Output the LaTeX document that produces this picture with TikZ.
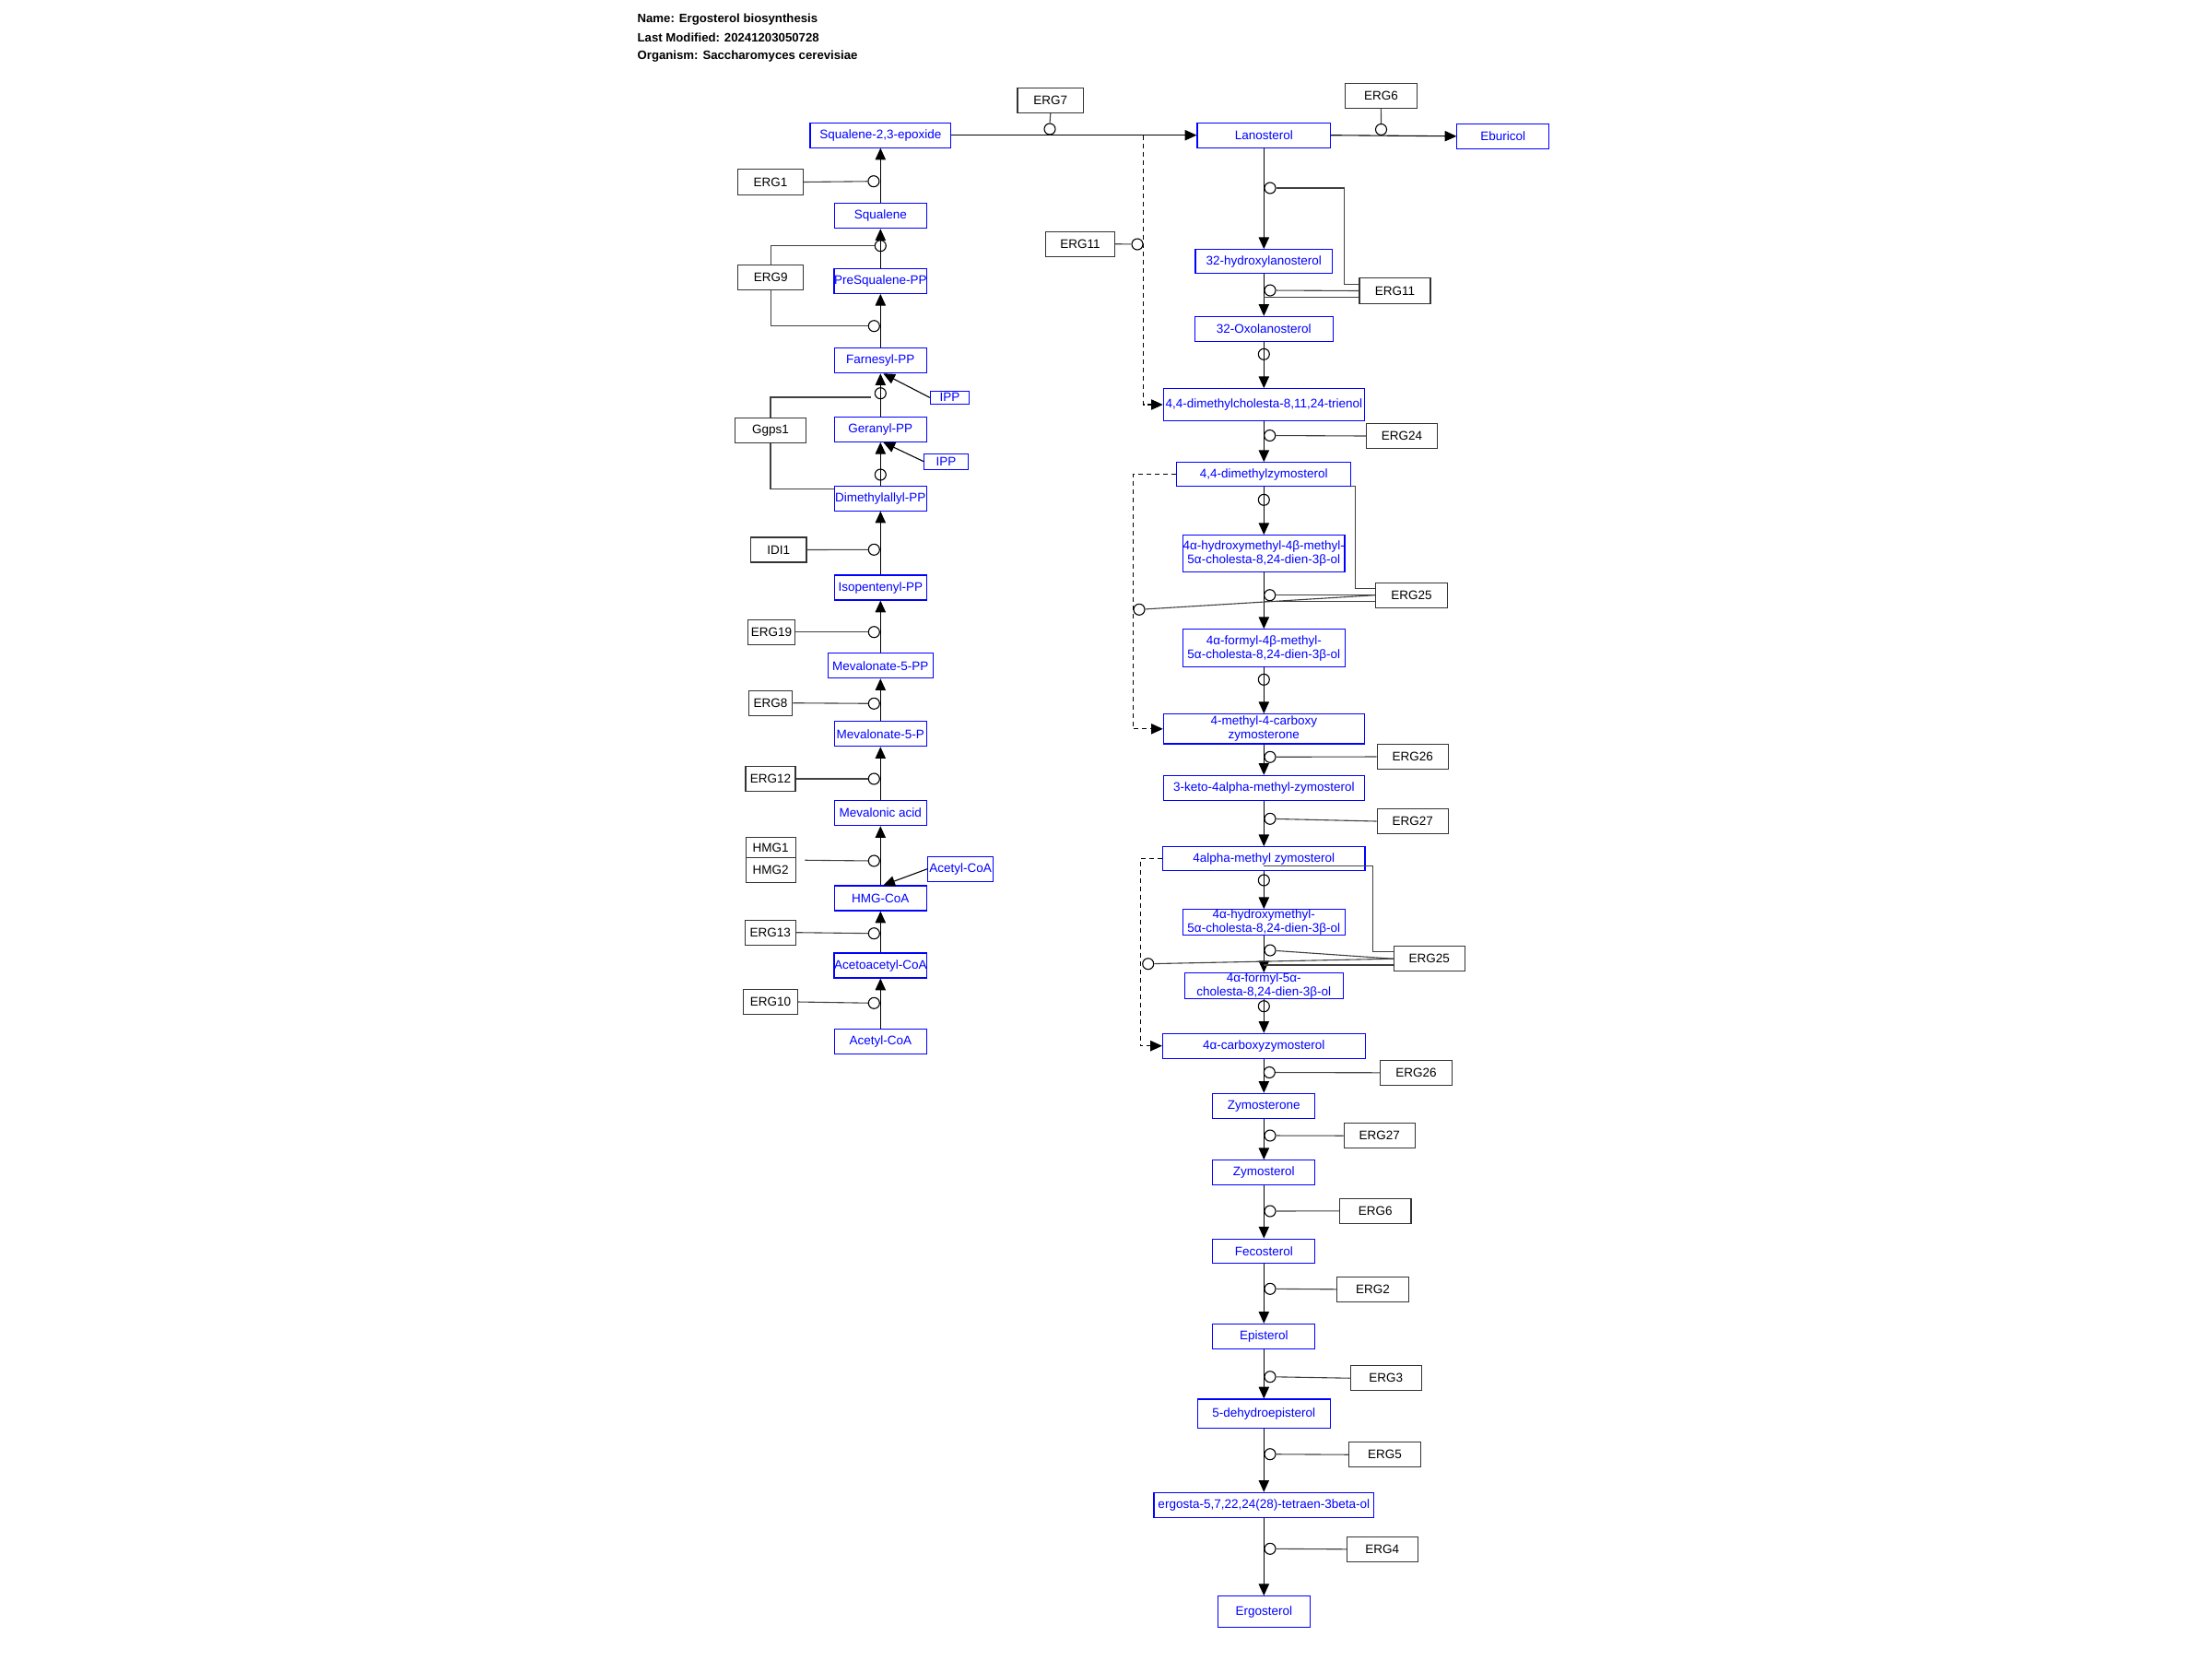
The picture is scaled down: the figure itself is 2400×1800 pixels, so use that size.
\documentclass[tikz,border=0pt]{standalone}
\usepackage{fontspec}
\setmainfont{Liberation Sans}
\usetikzlibrary{arrows.meta}
\newcommand\metab[6]{\node[met, minimum width=#4pt, minimum height=#5pt] (#1) at (#2,#3) {#6};}
\newcommand\enzy[6]{\node[enz, minimum width=#4pt, minimum height=#5pt] (#1) at (#2,#3) {#6};}
\newcommand\catal[3]{\node[cat] (#1) at (#2,#3) {};}
\begin{document}
\begin{tikzpicture}[x=1pt,y=-1pt,
  met/.style={draw=blue, text=blue, line width=1.1pt, rectangle, inner sep=0pt, align=center, font=\fontsize{13.5}{15}\selectfont},
  enz/.style={draw=black!80, text=black, line width=1.1pt, rectangle, inner sep=0pt, font=\fontsize{13.5}{15}\selectfont},
  cat/.style={circle, draw=black, line width=1.1pt, minimum size=12pt, inner sep=0pt},
  rx/.style={line width=1.1pt, -{Triangle[length=12.7pt,width=11.3pt]}},
  link/.style={line width=1.1pt, draw=black!75},
  dashx/.style={dash pattern=on 5pt off 4pt},
  hdr/.style={anchor=west, inner sep=0pt, font=\bfseries\fontsize{13.2}{15}\selectfont}]
\useasboundingbox (0,0) rectangle (2400,1800);
\fill[white] (0,0) rectangle (2400,1800);
% header
\node[hdr] (t1) at (691.4,20.7) {Name: Ergosterol biosynthesis};
\node[hdr] (t2) at (691.4,40.7) {Last Modified: 20241203050728};
\node[hdr] (t3) at (691.4,60.7) {Organism: Saccharomyces cerevisiae};
% left column metabolites
\metab{sqe}{955.3}{146.7}{152.7}{26.7}{Squalene-2,3-epoxide}
\metab{squ}{955.3}{234}{100}{27.4}{Squalene}
\metab{psq}{955.3}{305}{99.7}{26.6}{PreSqualene-PP}
\metab{fpp}{955.3}{391}{99.7}{27.4}{Farnesyl-PP}
\metab{ipa}{1030.5}{431.3}{42.4}{14}{IPP}
\metab{gpp}{955.3}{465.8}{99.7}{27}{Geranyl-PP}
\metab{ipb}{1026.5}{500.7}{47.6}{17.3}{IPP}
\metab{dma}{955.3}{540.7}{99.7}{26.7}{Dimethylallyl-PP}
\metab{ipe}{955.3}{637.5}{99.7}{27}{Isopentenyl-PP}
\metab{mvpp}{955.3}{722.2}{114.3}{27}{Mevalonate-5-PP}
\metab{mvp}{955.3}{796.2}{99.7}{27}{Mevalonate-5-P}
\metab{mva}{955.3}{882}{99.7}{27.4}{Mevalonic acid}
\metab{acx}{1042}{942.7}{70.6}{26.7}{Acetyl-CoA}
\metab{hmg}{955.3}{974.5}{99.7}{27}{HMG-CoA}
\metab{aac}{955.3}{1047.5}{99.7}{27}{Acetoacetyl-CoA}
\metab{acc}{955.3}{1129.8}{99.7}{27}{Acetyl-CoA}
% right column metabolites
\metab{lan}{1371.3}{146.7}{144.7}{26.7}{Lanosterol}
\metab{ebu}{1630.8}{147.8}{99.8}{27}{Eburicol}
\metab{hyl}{1371.3}{283.7}{148.7}{26}{32-hydroxylanosterol}
\metab{oxo}{1371.3}{356.8}{150.3}{27}{32-Oxolanosterol}
\metab{tri}{1371.3}{439}{218}{34.6}{4,4-dimethylcholesta-8,11,24-trienol}
\metab{dmz}{1371.3}{514.7}{189}{26}{4,4-dimethylzymosterol}
\metab{hma}{1371.3}{600.7}{169.7}{40}{4α-hydroxymethyl-4β-methyl-\\5α-cholesta-8,24-dien-3β-ol}
\metab{fma}{1371.3}{703}{176}{40.6}{4α-formyl-4β-methyl-\\5α-cholesta-8,24-dien-3β-ol}
\metab{mcz}{1371.3}{790.8}{218}{32.3}{4-methyl-4-carboxy\\zymosterone}
\metab{kmz}{1371.3}{854.7}{218}{26.7}{3-keto-4alpha-methyl-zymosterol}
\metab{amz}{1371.3}{931.7}{219.3}{26}{4alpha-methyl zymosterol}
\metab{hmb}{1371.3}{1000.5}{176.4}{27}{4α-hydroxymethyl-\\5α-cholesta-8,24-dien-3β-ol}
\metab{fmb}{1371.3}{1069.5}{172.4}{27}{4α-formyl-5α-\\cholesta-8,24-dien-3β-ol}
\metab{cz}{1371.3}{1134.7}{219.7}{26.7}{4α-carboxyzymosterol}
\metab{zyn}{1371.3}{1199.8}{111}{27}{Zymosterone}
\metab{zyl}{1371.3}{1272}{111}{26.6}{Zymosterol}
\metab{fec}{1371.3}{1357.2}{111}{26.3}{Fecosterol}
\metab{epi}{1371.3}{1449.7}{111}{26.7}{Episterol}
\metab{dhe}{1371.3}{1533.8}{144.4}{31.7}{5-dehydroepisterol}
\metab{tet}{1371.3}{1632.8}{238.7}{27}{ergosta-5,7,22,24(28)-tetraen-3beta-ol}
\metab{egs}{1371.3}{1748.7}{99.6}{34}{Ergosterol}
% enzymes
\enzy{e7}{1139.8}{108.7}{71.6}{27.3}{ERG7}
\enzy{e6a}{1498.4}{103.7}{77.7}{27.3}{ERG6}
\enzy{e1}{836.1}{197.5}{71}{27.6}{ERG1}
\enzy{e9}{836.2}{301}{71}{26.6}{ERG9}
\enzy{gg}{836}{467.2}{77.4}{27}{Ggps1}
\enzy{idi}{844.8}{596.5}{60.3}{27}{IDI1}
\enzy{e19}{837}{685.7}{50.6}{26.7}{ERG19}
\enzy{e8}{836}{762.7}{47.4}{26.7}{ERG8}
\enzy{e12}{836}{845}{54}{26.6}{ERG12}
\enzy{ha}{836.2}{919.5}{53.7}{22.4}{HMG1}
\enzy{hb}{836.2}{944}{53.7}{26.6}{HMG2}
\enzy{e13}{835.8}{1011.7}{55}{26.7}{ERG13}
\enzy{e10}{836}{1087}{58.6}{26.6}{ERG10}
\enzy{ea}{1172}{264.7}{74.3}{27.3}{ERG11}
\enzy{eb}{1513.5}{315.5}{77}{27.6}{ERG11}
\enzy{e24}{1521}{473}{77.4}{26.6}{ERG24}
\enzy{f25}{1531.5}{645.7}{77.6}{26.7}{ERG25}
\enzy{f26}{1532.7}{821}{77.3}{26.6}{ERG26}
\enzy{f27}{1532.7}{891}{77.3}{26.6}{ERG27}
\enzy{g25}{1550.8}{1040.2}{77}{27}{ERG25}
\enzy{g26}{1536.5}{1163.8}{77.6}{27}{ERG26}
\enzy{g27}{1496.7}{1232.2}{77.3}{27}{ERG27}
\enzy{e6b}{1492.3}{1313.8}{77.3}{27}{ERG6}
\enzy{e2}{1489.5}{1398.8}{77.6}{27}{ERG2}
\enzy{e3}{1503.7}{1495.2}{77.3}{27}{ERG3}
\enzy{e5}{1502.5}{1578.2}{77.6}{27}{ERG5}
\enzy{e4}{1499.8}{1680.8}{77}{27}{ERG4}
% catalysis circles
\catal{c1}{947.9}{196.7}
\catal{c9a}{955.3}{266.7}
\catal{c9b}{948.3}{353.7}
\catal{cgg}{955.3}{426.7}
\catal{cdm}{955.3}{515}
\catal{cidi}{948.3}{596.3}
\catal{c19}{948.3}{685.7}
\catal{c8}{948.3}{763.3}
\catal{c12}{948.3}{845}
\catal{chm}{948.3}{934}
\catal{c13}{948.3}{1012.7}
\catal{c10}{948.3}{1088.3}
\catal{c7}{1139}{140}
\catal{c6a}{1498.5}{140.5}
\catal{cea}{1234}{265}
\catal{cl}{1378}{204}
\catal{ch}{1378}{315}
\catal{co}{1371.3}{384.3}
\catal{c24}{1377.7}{472.5}
\catal{cd}{1371.3}{542.3}
\catal{cf25}{1377.7}{645.7}
\catal{cf25d}{1236}{661.3}
\catal{cfm}{1371.3}{737.3}
\catal{cf26}{1378}{821.3}
\catal{cf27}{1378}{888.3}
\catal{cam}{1371.3}{955}
\catal{cg25}{1378}{1031}
\catal{cg25d}{1245.7}{1045.7}
\catal{cfb}{1371.3}{1091.7}
\catal{cg26}{1377.3}{1163.5}
\catal{cg27}{1378}{1232}
\catal{c6b}{1378}{1314}
\catal{c2}{1378}{1398.3}
\catal{c3}{1378}{1493.7}
\catal{c5}{1378}{1577.7}
\catal{c4}{1378}{1680.3}
% main reactions, left
\draw[rx] (acc.north) -- (aac.south);
\draw[rx] (aac.north) -- (hmg.south);
\draw[rx] (hmg.north) -- (mva.south);
\draw[rx] (mva.north) -- (mvp.south);
\draw[rx] (mvp.north) -- (mvpp.south);
\draw[rx] (mvpp.north) -- (ipe.south);
\draw[rx] (ipe.north) -- (dma.south);
\draw[rx] (dma.north) -- (gpp.south);
\draw[rx] (gpp.north) -- (fpp.south);
\draw[rx] (fpp.north) -- (psq.south);
\draw[rx] (psq.north) -- (squ.south);
\draw[rx] (squ.north) -- (sqe.south);
\draw[rx] (ipa.west) -- ([xshift=3pt]fpp.south);
\draw[rx] (ipb.west) -- ([xshift=3pt]gpp.south);
\draw[rx] (acx.west) -- ([xshift=3pt]hmg.north);
% main reactions, right
\draw[rx] (sqe.east) -- (lan.west);
\draw[rx] (lan.east) -- (ebu.west);
\draw[rx] (lan.south) -- (hyl.north);
\draw[rx] (hyl.south) -- (oxo.north);
\draw[rx] (oxo.south) -- (tri.north);
\draw[rx] (tri.south) -- (dmz.north);
\draw[rx] (dmz.south) -- (hma.north);
\draw[rx] (hma.south) -- (fma.north);
\draw[rx] (fma.south) -- (mcz.north);
\draw[rx] (mcz.south) -- (kmz.north);
\draw[rx] (kmz.south) -- (amz.north);
\draw[rx] (amz.south) -- (hmb.north);
\draw[rx] (hmb.south) -- (fmb.north);
\draw[rx] (fmb.south) -- (cz.north);
\draw[rx] (cz.south) -- (zyn.north);
\draw[rx] (zyn.south) -- (zyl.north);
\draw[rx] (zyl.south) -- (fec.north);
\draw[rx] (fec.south) -- (epi.north);
\draw[rx] (epi.south) -- (dhe.north);
\draw[rx] (dhe.south) -- (tet.north);
\draw[rx] (tet.south) -- (egs.north);
% dashed bypass reactions
\coordinate (dj) at (1240.7,146.7);
\draw[rx, dashx] (dj) |- (tri.west);
\draw[rx, dashx] (dmz.west) -- ++(-47.2,0) |- (mcz.west);
\draw[rx, dashx] (amz.west) -- ++(-24,0) |- (cz.west);
% enzyme links, left
\draw[link] (e1.east) -- (c1);
\draw[link] (e9.north) |- (c9a.west);
\draw[link] (e9.south) |- (c9b.west);
\draw[link] (gg.north) |- ([xshift=-3.6pt,yshift=-4.3pt]cgg.west);
\draw[link] (gg.south) |- ([yshift=10.4pt]dma.west);
\draw[link] (idi.east) -- (cidi);
\draw[link] (e19.east) -- (c19);
\draw[link] (e8.east) -- (c8);
\draw[link] (e12.east) -- (c12);
\draw[link] ([xshift=9.7pt,yshift=-2pt]ha.south east) -- (chm);
\draw[link] (e13.east) -- (c13);
\draw[link] (e10.east) -- (c10);
% enzyme links, top and right
\draw[link] (e7.south) -- (c7.north);
\draw[link] (e6a.south) -- (c6a.north);
\draw[link] (ea.east) -- (cea);
\draw[link] (cl.east) -- ++(73.6,0) |- ([yshift=7.2pt]eb.west);
\draw[link] (eb.west) -- (ch);
\draw[link] ([yshift=-6.8pt]eb.west) -- ++(-103.7,0);
\draw[link] (e24.west) -- (c24);
\draw[link] ([yshift=1pt]dmz.south east) -- ++(4.3,0) |- ([yshift=7.4pt]f25.west);
\draw[link] (f25.west) -- (cf25);
\draw[link] ([yshift=-6.8pt]f25.west) -- ++(-121.4,0);
\draw[link] (f25.west) -- (cf25d);
\draw[link] (f26.west) -- (cf26);
\draw[link] (f27.west) -- (cf27);
\draw[link] ([yshift=-7.6pt]amz.center) -- ++(118.4,0) |- ([yshift=7.5pt]g25.west);
\draw[link] (g25.west) -- (cg25);
\draw[link] (g25.west) -- (cg25d);
\draw[link] ([yshift=-6.8pt]g25.west) -- ++(-141,0);
\draw[link] (g26.west) -- (cg26);
\draw[link] (g27.west) -- (cg27);
\draw[link] (e6b.west) -- (c6b);
\draw[link] (e2.west) -- (c2);
\draw[link] (e3.west) -- (c3);
\draw[link] (e5.west) -- (c5);
\draw[link] (e4.west) -- (c4);
\end{tikzpicture}
\end{document}
